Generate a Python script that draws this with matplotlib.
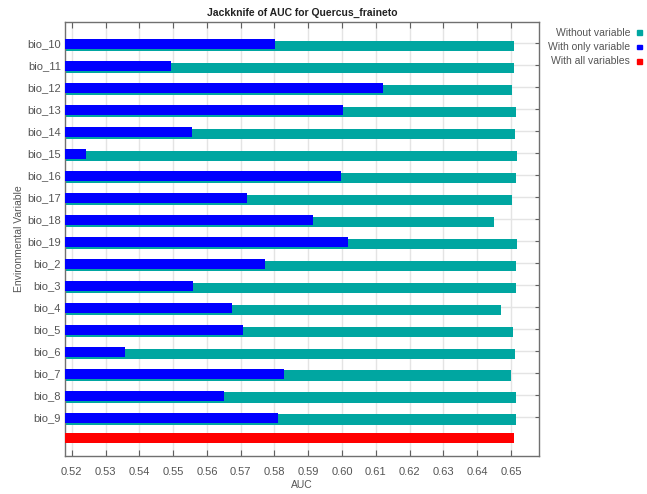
import matplotlib
matplotlib.use("Agg")
import matplotlib.pyplot as plt
import numpy as np

plt.rcParams['font.family'] = ['Liberation Sans', 'DejaVu Sans']

labels = ['bio_10', 'bio_11', 'bio_12', 'bio_13', 'bio_14', 'bio_15', 'bio_16',
          'bio_17', 'bio_18', 'bio_19', 'bio_2', 'bio_3', 'bio_4', 'bio_5',
          'bio_6', 'bio_7', 'bio_8', 'bio_9']
without_var = [0.6509, 0.6509, 0.6503, 0.6514, 0.6513, 0.6518, 0.6514, 0.6503, 0.6451,
               0.6519, 0.6514, 0.6514, 0.6471, 0.6507, 0.6512, 0.6499, 0.6514, 0.6514]
only_var = [0.5803, 0.5494, 0.6121, 0.6004, 0.5557, 0.5242, 0.5997, 0.5718, 0.5914,
            0.6017, 0.5773, 0.5558, 0.5673, 0.5708, 0.5358, 0.5827, 0.5652, 0.5811]
all_vars = 0.6509
xticks = [0.52, 0.53, 0.54, 0.55, 0.56, 0.57, 0.58, 0.59, 0.60, 0.61, 0.62, 0.63, 0.64, 0.65]

TEAL = '#00A6A1'
BLUE = '#0000FF'
RED = '#FF0000'
GRAY = '#555555'

fig = plt.figure(figsize=(6.47, 4.94), dpi=100)
ax = fig.add_axes([0.1005, 0.0775, 0.733, 0.877])

x0 = 0.518
x1 = 0.6584
n = len(labels)
rows = np.arange(n)
h = 0.46

ax.barh(rows + 0.12, np.array(without_var) - x0, left=x0, height=h, color=TEAL, zorder=2)
ax.barh(rows + 0.04, np.array(only_var) - x0, left=x0, height=h, color=BLUE, zorder=3)
ax.barh([n - 0.05], [all_vars - x0], left=x0, height=h, color=RED, zorder=3)

ax.set_xlim(x0, x1)
ax.set_ylim(n + 0.77, -0.95)
ax.set_xticks(xticks)
ax.set_xticklabels([f'{t:.2f}' for t in xticks])
ax.set_yticks(rows)
ax.set_yticklabels(labels)

ax.grid(True, color='#e4e4e4', lw=1.0, zorder=0)
ax.set_axisbelow(True)

ax.tick_params(axis='x', direction='in', length=4, top=True, bottom=True,
               labelsize=8, labelcolor=GRAY, color='#606060', pad=8)
ax.tick_params(axis='y', direction='in', length=3, left=True, right=True,
               labelsize=8, labelcolor=GRAY, color='#606060', pad=3)
for s in ax.spines.values():
    s.set_color('#707070')
    s.set_linewidth(1.0)

ax.set_title('Jackknife of AUC for Quercus_fraineto', fontsize=7.5,
             fontweight='bold', color='#222222', pad=5)
ax.set_xlabel('AUC', fontsize=7.5, color=GRAY, labelpad=2)
ax.set_ylabel('Environmental Variable', fontsize=7.5, color=GRAY, labelpad=2)

# legend at right
legend_items = [('Without variable', TEAL), ('With only variable', BLUE), ('With all variables', RED)]
W, H = 647, 494
for i, (txt, col) in enumerate(legend_items):
    yp = 32.5 + 14.5 * i
    fig.text(630 / W, 1 - yp / H, txt, ha='right', va='center', fontsize=7.5, color=GRAY)
    fig.patches.append(plt.Rectangle(((637) / W, 1 - (yp + 2.5) / H), 4.5 / W, 4.5 / H,
                                     transform=fig.transFigure, color=col, figure=fig))

fig.savefig('out.png', dpi=100)
